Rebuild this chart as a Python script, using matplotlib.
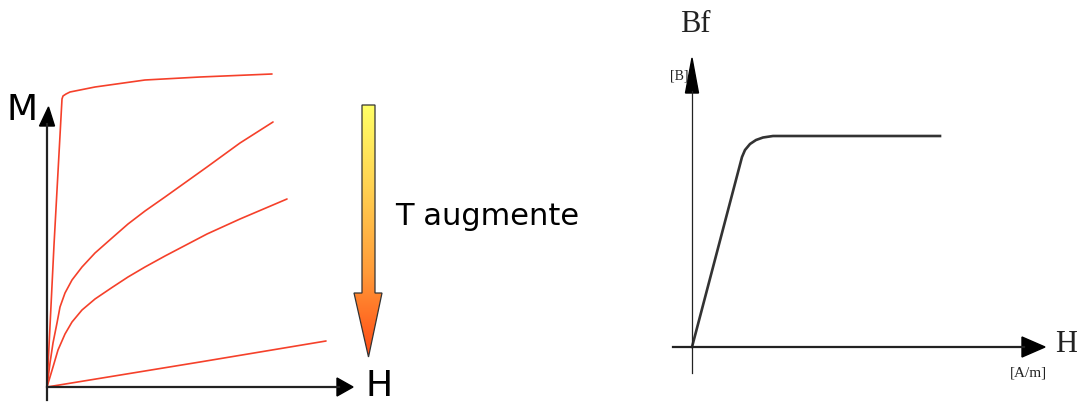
import numpy as np
import matplotlib.pyplot as plt
from matplotlib.colors import LinearSegmentedColormap
from matplotlib.patches import Polygon

# --- courbes M(H) a differentes temperatures (unites arbitraires, origine = 0) ---
c1_H = [0, 7, 15, 16, 19, 23, 48, 98, 153, 225]
c1_M = [0, 142, 288, 291, 293, 295, 300, 307, 310, 313]

c2_H = [0, 3, 6, 10, 13, 18, 25, 35, 48, 65, 81, 98, 118, 160, 193, 226]
c2_M = [0, 24, 44, 64, 80, 94, 107, 120, 134, 149, 163, 176, 190, 220, 244, 265]

c3_H = [0, 6, 11, 18, 25, 35, 48, 65, 81, 98, 118, 160, 193, 240]
c3_M = [0, 20, 37, 53, 65, 77, 88, 99.5, 110, 120, 131, 153, 168, 188]

c4_H = [0, 153, 279]
c4_M = [0, 25, 46]

# --- courbe Bf(H) ---
bf_H = [0, 50, 53, 58, 64, 71, 81, 248]
bf_B = [0, 190, 197, 203, 207, 209.5, 211, 211]

red = "#f5402a"
dark = "#222222"

fig = plt.figure(figsize=(10.77, 4.05), dpi=100)

# panneau gauche: 1 unite = 1 pixel
axl = fig.add_axes([0, 0, 0.6, 1])
axl.axis("off")

for h, m in [(c1_H, c1_M), (c2_H, c2_M), (c3_H, c3_M), (c4_H, c4_M)]:
    axl.plot(h, m, color=red, lw=1.2, solid_capstyle="round", solid_joinstyle="round")

# axes avec fleches
axl.plot([0, 0], [-13, 263], color=dark, lw=1.6)
axl.add_patch(Polygon([(-7.5, 261), (7.5, 261), (1.5, 280)], closed=True, color="black"))
axl.plot([0, 292], [0, 0], color=dark, lw=1.6)
axl.add_patch(Polygon([(290, -9), (290, 9), (306, 0)], closed=True, color="black"))

axl.text(-25, 277, "M", fontsize=26, ha="center", va="center", color="black")
axl.text(332, 1, "H", fontsize=26, ha="center", va="center", color="black")

# fleche en degrade
arrow = Polygon([(315, 282), (328, 282), (328, 94), (335, 94), (321.5, 30),
                 (307, 94), (315, 94)], closed=True, facecolor="none",
                edgecolor="#333333", lw=0.9, zorder=3)
axl.add_patch(arrow)
cmap = LinearSegmentedColormap.from_list("t", ["#ff4a14", "#ff9a38", "#ffd050", "#ffff66"])
grad = np.linspace(0, 1, 256).reshape(-1, 1)
img = axl.imshow(grad, extent=[307, 335, 30, 282], origin="lower", aspect="auto",
                 cmap=cmap, zorder=2)
img.set_clip_path(arrow)
axl.set_xlim(-47, 599.2)
axl.set_ylim(-18, 387)

axl.text(348, 162, "T augmente", fontsize=22, ha="left", va="baseline", color="black")

# panneau droit
axr = fig.add_axes([0.6, 0, 0.4, 1])
axr.set_xlim(-45.8, 385)
axr.set_ylim(-58, 347)
axr.axis("off")

axr.plot(bf_H, bf_B, color="#333333", lw=1.9, solid_joinstyle="round")

axr.plot([0, 0], [-26, 256], color=dark, lw=0.9)
axr.add_patch(Polygon([(-6.5, 254), (6.5, 254), (0, 289)], closed=True, color="black"))
axr.plot([-19, 332], [0, 0], color=dark, lw=1.6)
axr.add_patch(Polygon([(330, -10), (330, 10), (353, 0)], closed=True, color="black"))

serif = "Liberation Serif"
axr.text(3, 323, "Bf", fontsize=22, family=serif, ha="center", va="center", color=dark)
axr.text(-13, 271, "[B]", fontsize=10, family=serif, ha="center", va="center", color=dark)
axr.text(374, 2, "H", fontsize=22, family=serif, ha="center", va="center", color=dark)
axr.text(336, -26, "[A/m]", fontsize=11, family=serif, ha="center", va="center", color=dark)

fig.savefig("out.png", dpi=100)
